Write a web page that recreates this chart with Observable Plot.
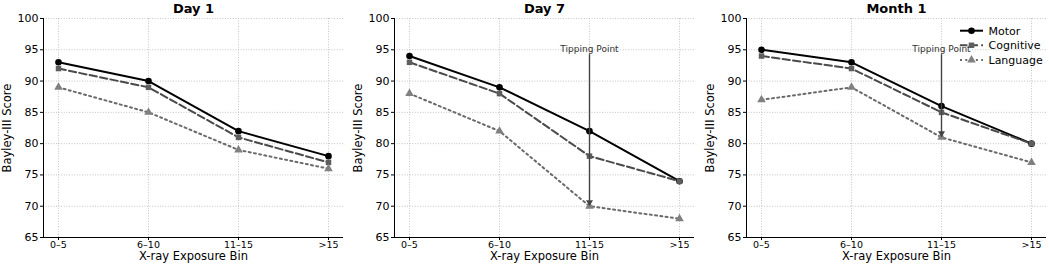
<!DOCTYPE html>
<html><head><meta charset="utf-8">
<script src="https://cdn.jsdelivr.net/npm/d3@7"></script>
<script src="https://cdn.jsdelivr.net/npm/@observablehq/plot@0.6"></script>
<style>
html,body{margin:0;padding:0;background:#fff;}
#chart{position:relative;width:1049px;height:268px;overflow:hidden;font-family:"DejaVu Sans",sans-serif;}
#chart svg{position:absolute;top:0;}
</style></head><body><div id="chart"></div>
<script>
// ---- data ----
const bins = ["0–5", "6–10", "11–15", ">15"];
const panelTitles = ["Day 1", "Day 7", "Month 1"];
const seriesNames = ["Motor", "Cognitive", "Language"];
const yTicks = [65, 70, 75, 80, 85, 90, 95, 100];

const motorDay1 = [93, 90, 82, 78];
const cognitiveDay1 = [92, 89, 81, 77];
const languageDay1 = [89, 85, 79, 76];

const motorDay7 = [94, 89, 82, 74];
const cognitiveDay7 = [93, 88, 78, 74];
const languageDay7 = [88, 82, 70, 68];

const motorMonth1 = [95, 93, 86, 80];
const cognitiveMonth1 = [94, 92, 85, 80];
const languageMonth1 = [87, 89, 81, 77];

const tippingLabel = "Tipping Point";
const tippingPanels = ["Day 7", "Month 1"];
const tippingBin = "11–15";
const tippingFrom = 95;

const xLabel = "X-ray Exposure Bin";
const yLabel = "Bayley-III Score";

// ---- styles ----
const styles = {
  Motor: {stroke: "#000", fill: "#000", dash: null, symbol: "circle", r: 3.3},
  Cognitive: {stroke: "#4a4a4a", fill: "#5e5e5e", dash: "7.4,3.2", symbol: "square", r: 3.1},
  Language: {stroke: "#6a6a6a", fill: "#808080", dash: "2,3.3", symbol: "triangle", r: 3.2}
};

const panelData = {
  "Day 1": [motorDay1, cognitiveDay1, languageDay1],
  "Day 7": [motorDay7, cognitiveDay7, languageDay7],
  "Month 1": [motorMonth1, cognitiveMonth1, languageMonth1]
};

const lefts = [0, 351, 703];
const widths = [351, 351, 346];
const container = document.getElementById("chart");

panelTitles.forEach((title, pi) => {
  const rows = [];
  panelData[title].forEach((vals, si) => {
    vals.forEach((v, bi) => rows.push({bin: bins[bi], value: v, series: seriesNames[si]}));
  });
  const marks = [
    Plot.gridY(yTicks, {stroke: "#b5b5b5", strokeOpacity: 1, strokeWidth: 0.8, strokeDasharray: "1,1.6"}),
    Plot.gridX(bins, {stroke: "#b5b5b5", strokeOpacity: 1, strokeWidth: 0.8, strokeDasharray: "1,1.6"}),
    Plot.axisY(yTicks, {tickSize: 3, tickPadding: 2, fontSize: 11, label: null, tickFormat: d => String(d)}),
    Plot.axisX(bins, {tickSize: 3, tickPadding: 0.5, fontSize: 9.5, label: null}),
    Plot.ruleY([65], {stroke: "#000", strokeWidth: 1}),
    Plot.frame({anchor: "left", stroke: "#000", strokeWidth: 1})
  ];
  seriesNames.forEach(s => {
    const st = styles[s];
    const d = rows.filter(r => r.series === s);
    marks.push(Plot.line(d, {x: "bin", y: "value", stroke: st.stroke, strokeWidth: 2, strokeDasharray: st.dash}));
  });
  seriesNames.forEach(s => {
    const st = styles[s];
    const d = rows.filter(r => r.series === s);
    marks.push(Plot.dot(d, {x: "bin", y: "value", symbol: st.symbol, fill: st.fill, stroke: "none", r: st.r}));
  });
  if (tippingPanels.includes(title)) {
    const target = rows.filter(r => r.series === "Language" && r.bin === tippingBin);
    marks.push(Plot.arrow(target, {x1: "bin", x2: "bin", y1: () => tippingFrom, y2: "value",
      insetStart: 5, insetEnd: 6, headLength: 0, stroke: "#444", strokeWidth: 1.4}));
    marks.push(Plot.dot(target, {x: "bin", y: "value", symbol: "triangle", rotate: 180, r: 2.6, dy: -4, fill: "#444"}));
    marks.push(Plot.text(target, {x: "bin", y: () => tippingFrom, text: () => tippingLabel, fontSize: 9,
      lineAnchor: "bottom", dy: 2, fill: "#333"}));
  }
  marks.push(Plot.text([title], {frameAnchor: "top", text: d => d, dy: -6, lineAnchor: "bottom",
    fontWeight: "bold", fontSize: 13, fill: "#000"}));
  marks.push(Plot.text([yLabel], {frameAnchor: "left", text: d => d, rotate: -90, dx: -36,
    textAnchor: "middle", lineAnchor: "middle", fontSize: 11.5, fill: "#000"}));
  marks.push(Plot.text([xLabel], {frameAnchor: "bottom", text: d => d, dy: 19,
    lineAnchor: "middle", fontSize: 11.5, fill: "#000"}));

  const svg = Plot.plot({
    width: widths[pi], height: 268,
    marginLeft: 43, marginRight: widths[pi] - 343, marginTop: 18, marginBottom: 31,
    style: {fontFamily: "'DejaVu Sans', sans-serif", background: "transparent", overflow: "visible", color: "#000"},
    x: {type: "point", domain: bins, padding: 0.15},
    y: {domain: [65, 100]},
    marks
  });
  svg.style.left = lefts[pi] + "px";
  container.appendChild(svg);

  if (pi === panelTitles.length - 1) {
    const g = d3.select(svg).append("g").attr("font-family", "'DejaVu Sans', sans-serif")
      .attr("text-anchor", "start");
    seriesNames.forEach((s, i) => {
      const st = styles[s];
      const y = 30.7 + i * 14.6;
      g.append("line").attr("x1", 257).attr("x2", 280).attr("y1", y).attr("y2", y)
        .attr("stroke", st.stroke).attr("stroke-width", 2).attr("stroke-dasharray", st.dash);
      const sym = {circle: d3.symbolCircle, square: d3.symbolSquare, triangle: d3.symbolTriangle}[st.symbol];
      g.append("path").attr("d", d3.symbol(sym, Math.PI * st.r * st.r)())
        .attr("transform", `translate(268.5,${y})`).attr("fill", st.fill);
      g.append("text").attr("x", 285.5).attr("y", y).attr("dy", "0.35em")
        .attr("text-anchor", "start").attr("font-size", 11).attr("fill", "#000").text(s);
    });
  }
});
</script></body></html>
